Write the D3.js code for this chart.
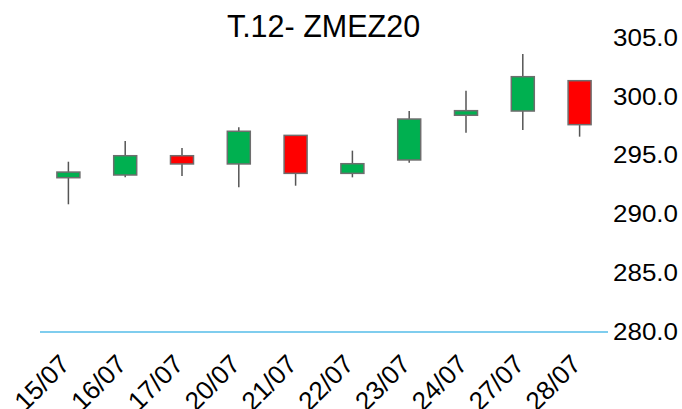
<!DOCTYPE html>
<html><head><meta charset="utf-8">
<script src="https://cdn.jsdelivr.net/npm/d3@7"></script>
<style>body{margin:0;background:#fff}svg{display:block}text{font-family:"Liberation Sans",Arial,sans-serif;fill:#000}</style>
</head><body><svg id="c" width="682" height="409"></svg>
<script>
const dates = ["15/07","16/07","17/07","20/07","21/07","22/07","23/07","24/07","27/07","28/07"];
const openV  = [293.12,293.35,294.99,294.29,296.72,293.49,294.63,298.43,298.79,301.37];
const highV  = [294.48,296.24,295.65,297.41,296.75,295.42,298.79,300.52,303.64,301.42];
const lowV   = [290.86,293.15,293.27,292.30,292.44,293.15,294.40,296.95,297.18,296.61];
const closeV = [293.60,294.99,294.29,297.07,293.49,294.31,298.11,298.82,301.71,297.63];
const yTicks = [280,285,290,295,300,305];
const title = "T.12- ZMEZ20";

const svg = d3.select("#c");
const x = d3.scaleBand().domain(dates).range([40,608]).padding(0);
const y = d3.scaleLinear().domain([280,305]).range([332,38]);
const bw = 23;

svg.append("text").attr("x",323.5).attr("y",37).attr("text-anchor","middle")
  .style("font-size","30.5px").text(title);

const yAxis = d3.axisRight(y).tickValues(yTicks).tickFormat(d3.format(".1f")).tickSize(0).tickPadding(0);
const gy = svg.append("g").attr("transform","translate(613,0)").call(yAxis);
gy.select(".domain").remove();
gy.selectAll("text").style("font-size","23px").attr("font-family","Liberation Sans")
  .attr("textLength",65).attr("lengthAdjust","spacingAndGlyphs");

svg.append("line").attr("x1",40).attr("x2",608).attr("y1",y(280)).attr("y2",y(280))
  .attr("stroke","#55BDE8").attr("stroke-width",1.5);

const data = dates.map((d,i)=>({d,o:openV[i],h:highV[i],l:lowV[i],c:closeV[i]}));
const g = svg.append("g");
const cx = d => x(d.d)+x.bandwidth()/2;
g.selectAll("line.w").data(data).join("line").attr("class","w")
  .attr("x1",cx).attr("x2",cx).attr("y1",d=>y(d.h)).attr("y2",d=>y(d.l))
  .attr("stroke","#555").attr("stroke-width",1.5);
g.selectAll("rect").data(data).join("rect")
  .attr("x",d=>cx(d)-bw/2).attr("width",bw)
  .attr("y",d=>y(Math.max(d.o,d.c))).attr("height",d=>Math.max(1,Math.abs(y(d.o)-y(d.c))))
  .attr("fill",d=>d.c>=d.o?"#00B050":"#FF0000").attr("stroke","#6e6e6e").attr("stroke-width",1.5);

const xa = svg.append("g");
xa.selectAll("text").data(dates).join("text")
  .attr("transform",d=>`translate(${x(d)+x.bandwidth()/2-10},${353}) rotate(-45)`)
  .attr("text-anchor","end").attr("dy","0.7em").style("font-size","26px").text(d=>d);
</script></body></html>
